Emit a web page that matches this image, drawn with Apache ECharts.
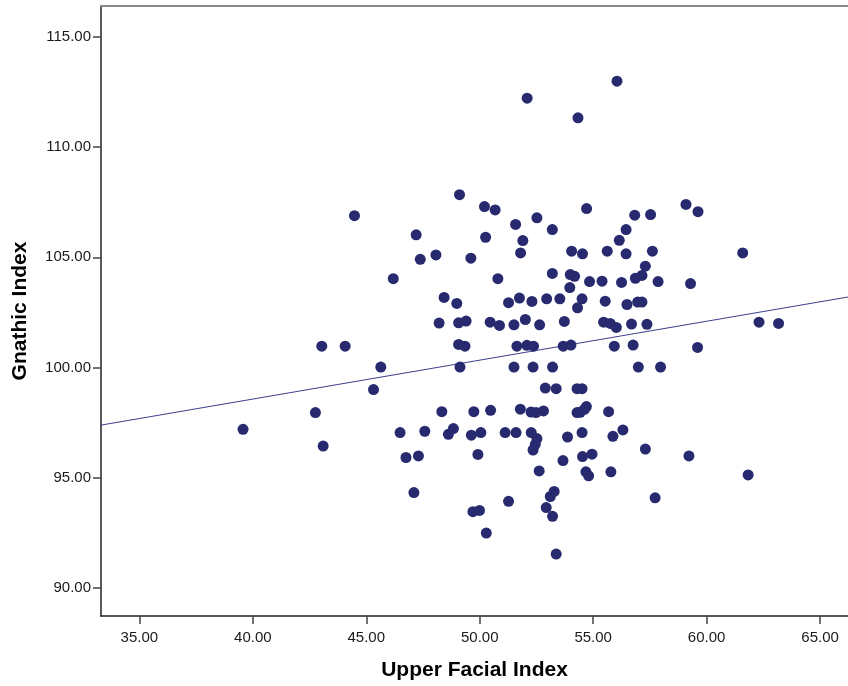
<!DOCTYPE html>
<html>
<head>
<meta charset="utf-8">
<script src="https://cdn.jsdelivr.net/npm/echarts@6/dist/echarts.min.js"></script>
<style>
  html, body { margin: 0; padding: 0; background: #ffffff; }
  #chart { width: 848px; height: 686px; }
</style>
</head>
<body>
<div id="chart"></div>
<script>
// Upper Facial Index (x) against Gnathic Index (y), one entry per subject
const upperFacialIndex = [
  56.05, 52.09, 54.33, 44.48, 46.19, 43.04, 44.07, 45.64, 45.32, 42.76,
  39.57, 43.10, 46.49, 46.75, 47.30, 49.11, 50.21, 50.68, 52.52, 51.58,
  53.20, 47.20, 50.26, 51.90, 51.80, 54.05, 54.53, 47.38, 48.07, 49.61,
  50.80, 53.20, 53.99, 54.18, 53.97, 54.51, 48.43, 48.99, 51.27, 51.75,
  52.30, 52.95, 53.53, 54.31, 48.21, 49.07, 49.40, 50.46, 50.87, 51.51,
  52.01, 52.64, 53.73, 49.07, 49.35, 51.64, 52.08, 52.37, 53.68, 54.02,
  49.13, 51.51, 52.35, 53.21, 52.89, 53.37, 54.29, 54.51, 48.33, 49.74,
  50.48, 51.79, 52.26, 52.48, 52.81, 54.29, 54.43, 54.61, 54.70, 55.68,
  47.58, 48.62, 48.84, 49.63, 50.05, 51.12, 51.60, 52.27, 52.52, 52.45,
  52.35, 53.87, 54.51, 55.87, 56.31, 49.92, 53.67, 52.62, 57.30, 59.22,
  54.53, 54.95, 54.68, 54.80, 55.78, 61.83, 57.73, 47.10, 51.27, 53.28,
  53.11, 49.70, 49.99, 52.93, 53.21, 50.29, 53.37, 54.71, 59.09, 59.62,
  56.83, 57.53, 56.45, 56.15, 55.62, 56.45, 57.61, 61.59, 57.30, 57.15,
  56.86, 54.84, 55.39, 56.25, 57.86, 59.29, 55.53, 56.49, 56.96, 57.15,
  55.46, 55.75, 56.02, 56.69, 57.37, 62.31, 63.17, 55.93, 56.76, 59.60,
  56.99, 57.97
];
const gnathicIndex = [
  112.99, 112.22, 111.33, 106.89, 104.03, 100.97, 100.97, 100.02, 99.00, 97.96,
  97.20, 96.44, 97.05, 95.92, 95.99, 107.84, 107.30, 107.15, 106.79, 106.49,
  106.26, 106.02, 105.91, 105.76, 105.20, 105.28, 105.16, 104.91, 105.11, 104.96,
  104.03, 104.27, 104.22, 104.14, 103.63, 103.12, 103.18, 102.91, 102.94, 103.15,
  103.00, 103.12, 103.12, 102.71, 102.02, 102.03, 102.11, 102.06, 101.91, 101.94,
  102.18, 101.94, 102.09, 101.05, 100.97, 100.97, 101.01, 100.97, 100.97, 101.02,
  100.02, 100.02, 100.02, 100.02, 99.07, 99.04, 99.04, 99.04, 98.00, 98.00,
  98.06, 98.11, 97.98, 97.96, 98.03, 97.96, 97.97, 98.10, 98.23, 98.00,
  97.11, 96.97, 97.23, 96.93, 97.05, 97.05, 97.05, 97.05, 96.78, 96.52,
  96.26, 96.85, 97.05, 96.88, 97.17, 96.06, 95.78, 95.31, 96.30, 95.99,
  95.96, 96.07, 95.27, 95.09, 95.27, 95.13, 94.09, 94.33, 93.93, 94.38,
  94.15, 93.46, 93.52, 93.65, 93.25, 92.49, 91.54, 107.21, 107.40, 107.07,
  106.91, 106.94, 106.26, 105.77, 105.28, 105.16, 105.28, 105.20, 104.60, 104.18,
  104.05, 103.90, 103.92, 103.86, 103.90, 103.81, 103.01, 102.86, 102.97, 102.97,
  102.06, 102.00, 101.82, 101.97, 101.96, 102.06, 102.00, 100.97, 101.02, 100.91,
  100.02, 100.02
];

// Linear fit: gnathic = fitIntercept + fitSlope * upperFacial
const fitIntercept = 91.51;
const fitSlope = 0.1765;

const xTicks = [35, 40, 45, 50, 55, 60, 65];
const yTicks = [90, 95, 100, 105, 110, 115];

const xMin = 33.31, xMax = 66.23;
const yMin = 88.73, yMax = 116.40;

const points = upperFacialIndex.map((x, i) => [x, gnathicIndex[i]]);
const fitLine = [
  [xMin, fitIntercept + fitSlope * xMin],
  [xMax, fitIntercept + fitSlope * xMax]
];

const labelFont = { fontFamily: 'Liberation Sans, Arial, sans-serif', fontSize: 15, color: '#1a1a1a' };
const titleFont = { fontFamily: 'Liberation Sans, Arial, sans-serif', fontSize: 21, fontWeight: 'bold', color: '#000000' };

const chart = echarts.init(document.getElementById('chart'), null, { renderer: 'canvas' });
chart.setOption({
  animation: false,
  backgroundColor: '#ffffff',
  grid: { left: 101, right: 0, top: 6, bottom: 69 },
  xAxis: [
    {
      type: 'value',
      position: 'bottom',
      min: xMin,
      max: xMax,
      name: 'Upper Facial Index',
      nameLocation: 'middle',
      nameGap: 44,
      nameTextStyle: titleFont,
      splitLine: { show: false },
      axisLine: { show: true, onZero: false, lineStyle: { color: '#222222', width: 1.5 } },
      axisTick: { show: true, length: 8, customValues: xTicks, lineStyle: { color: '#444444', width: 1.5 } },
      axisLabel: { show: true, margin: 14, customValues: xTicks, formatter: v => v.toFixed(2), ...labelFont }
    },
    {
      type: 'value',
      position: 'top',
      min: xMin,
      max: xMax,
      splitLine: { show: false },
      axisLine: { show: true, onZero: false, lineStyle: { color: '#8a8a8a', width: 2 } },
      axisTick: { show: false },
      axisLabel: { show: false }
    }
  ],
  yAxis: {
    type: 'value',
    min: yMin,
    max: yMax,
    name: 'Gnathic Index',
    nameLocation: 'middle',
    nameRotate: 90,
    nameGap: 70,
    nameTextStyle: titleFont,
    splitLine: { show: false },
    axisLine: { show: true, onZero: false, lineStyle: { color: '#222222', width: 1.5 } },
    axisTick: { show: true, length: 8, customValues: yTicks, lineStyle: { color: '#444444', width: 1.5 } },
    axisLabel: { show: true, margin: 10, customValues: yTicks, formatter: v => v.toFixed(2), ...labelFont }
  },
  series: [
    {
      type: 'line',
      data: fitLine,
      showSymbol: false,
      symbol: 'none',
      silent: true,
      lineStyle: { color: '#3d3f8c', width: 1 },
      z: 1
    },
    {
      type: 'scatter',
      data: points,
      symbol: 'circle',
      symbolSize: 11,
      itemStyle: { color: '#272a6f', opacity: 1 },
      z: 2
    }
  ]
});
</script>
</body>
</html>
